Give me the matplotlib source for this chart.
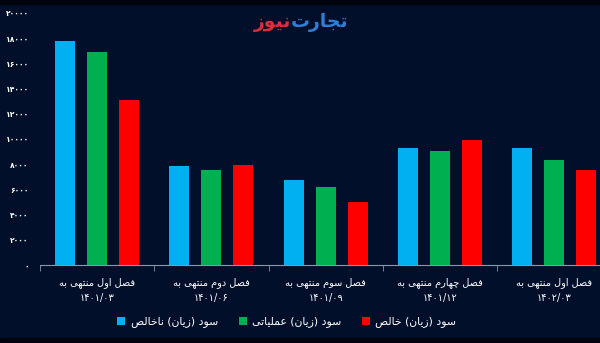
import numpy as np
import matplotlib.pyplot as plt
from matplotlib.patches import Rectangle

# data
categories = ["فصل اول منتهی به\n۱۴۰۱/۰۳", "فصل دوم منتهی به\n۱۴۰۱/۰۶",
              "فصل سوم منتهی به\n۱۴۰۱/۰۹", "فصل چهارم منتهی به\n۱۴۰۱/۱۲",
              "فصل اول منتهی به\n۱۴۰۲/۰۳"]
gross = [17800, 7850, 6770, 9250, 9250]       # sود ناخالص
operating = [16900, 7520, 6160, 9070, 8320]   # سود عملیاتی
net = [13100, 7950, 5010, 9950, 7520]         # سود خالص
yticks = [0, 2000, 4000, 6000, 8000, 10000, 12000, 14000, 16000, 18000, 20000]
series_names = ["سود (زیان) ناخالص", "سود (زیان) عملیاتی", "سود (زیان) خالص"]
colors = ["#00b0f0", "#00b050", "#ff0000"]

# --- tiny Persian shaper (matplotlib has no bidi / joining) ---
FORMS = {  # isolated, final, initial, medial
    'ا': ('\uFE8D', '\uFE8E', None, None),
    'ب': ('\uFE8F', '\uFE90', '\uFE91', '\uFE92'),
    'ت': ('\uFE95', '\uFE96', '\uFE97', '\uFE98'),
    'ج': ('\uFE9D', '\uFE9E', '\uFE9F', '\uFEA0'),
    'چ': ('\uFB7A', '\uFB7B', '\uFB7C', '\uFB7D'),
    'خ': ('\uFEA5', '\uFEA6', '\uFEA7', '\uFEA8'),
    'د': ('\uFEA9', '\uFEAA', None, None),
    'ر': ('\uFEAD', '\uFEAE', None, None),
    'ز': ('\uFEAF', '\uFEB0', None, None),
    'س': ('\uFEB1', '\uFEB2', '\uFEB3', '\uFEB4'),
    'ص': ('\uFEB9', '\uFEBA', '\uFEBB', '\uFEBC'),
    'ع': ('\uFEC9', '\uFECA', '\uFECB', '\uFECC'),
    'ف': ('\uFED1', '\uFED2', '\uFED3', '\uFED4'),
    'ل': ('\uFEDD', '\uFEDE', '\uFEDF', '\uFEE0'),
    'م': ('\uFEE1', '\uFEE2', '\uFEE3', '\uFEE4'),
    'ن': ('\uFEE5', '\uFEE6', '\uFEE7', '\uFEE8'),
    'ه': ('\uFEE9', '\uFEEA', '\uFEEB', '\uFEEC'),
    'و': ('\uFEED', '\uFEEE', None, None),
    'ی': ('\uFBFC', '\uFBFD', '\uFBFE', '\uFBFF'),
}


def shape_word(s):
    out = []
    for i, c in enumerate(s):
        if c not in FORMS:
            out.append(c)
            continue
        prev = s[i - 1] if i > 0 else ''
        nxt = s[i + 1] if i + 1 < len(s) else ''
        join_prev = prev in FORMS and FORMS[prev][2] is not None
        join_next = nxt in FORMS and FORMS[c][2] is not None
        iso, fin, ini, med = FORMS[c]
        if join_prev and join_next:
            out.append(med)
        elif join_prev:
            out.append(fin)
        elif join_next:
            out.append(ini)
        else:
            out.append(iso)
    return ''.join(out)


def fa(text):
    lines = []
    for line in text.split('\n'):
        if all(ch in '۰۱۲۳۴۵۶۷۸۹/' for ch in line):
            lines.append(line)
            continue
        shaped = shape_word(line)[::-1]
        shaped = shaped.translate(str.maketrans('()', ')('))
        lines.append(shaped)
    return '\n'.join(lines)


def fa_digits(n):
    return str(n).translate(str.maketrans('0123456789', '۰۱۲۳۴۵۶۷۸۹'))


bg = "#020f2b"
plt.rcParams['font.family'] = ['DejaVu Sans']

fig = plt.figure(figsize=(6, 3.43), dpi=100, facecolor=bg)
ax = fig.add_axes([40 / 600, 1 - 265 / 343, 560 / 600, 252 / 343])
ax.set_facecolor(bg)

x = np.arange(len(categories))
w = 0.175
off = 0.28
for i, (vals, name, col) in enumerate(zip([gross, operating, net], series_names, colors)):
    ax.bar(x + (i - 1) * off, vals, w, color=col, label=fa(name), zorder=2)

ax.set_xlim(-0.5, 4.40)
ax.set_ylim(0, 20000)
ax.set_yticks(yticks)
ax.set_yticklabels([fa_digits(v) for v in yticks], color="white", fontsize=5.5, fontweight='bold')
ax.tick_params(axis='y', length=0, pad=8)
ax.set_xticks(x)
ax.set_xticklabels([fa(c) for c in categories], color="white", fontsize=7, linespacing=1.6)
ax.set_xticks([-0.5, 0.5, 1.5, 2.5, 3.5], minor=True)
ax.tick_params(axis='x', which='major', length=0, pad=9)
ax.tick_params(axis='x', which='minor', length=4, color="#8a96aa")

for s in ['top', 'right', 'left']:
    ax.spines[s].set_visible(False)
ax.spines['bottom'].set_color("#8a96aa")

leg = fig.legend(loc='center', bbox_to_anchor=(0.478, 1 - 322 / 343), ncol=3,
                 frameon=False, fontsize=7.8, labelcolor="white",
                 handlelength=0.75, handleheight=0.75, handletextpad=0.5, columnspacing=1.9)

# logo text
fig.text(0.485, 1 - 22 / 343, fa("نیوز"), color="#e32b3a", fontsize=13.5, fontweight='bold',
         ha='right', va='center')
fig.text(0.485, 1 - 22 / 343, fa("تجارت"), color="#2f7fd9", fontsize=13.5, fontweight='bold',
         ha='left', va='center')

# dark strips at the top and bottom edges
fig.patches.append(Rectangle((0, 1 - 4 / 343), 1, 4 / 343, transform=fig.transFigure,
                             color="#00040c", zorder=0))
fig.patches.append(Rectangle((0, 0), 1, 5 / 343, transform=fig.transFigure,
                             color="#00040c", zorder=0))

fig.savefig("out.png", dpi=100, facecolor=bg)
